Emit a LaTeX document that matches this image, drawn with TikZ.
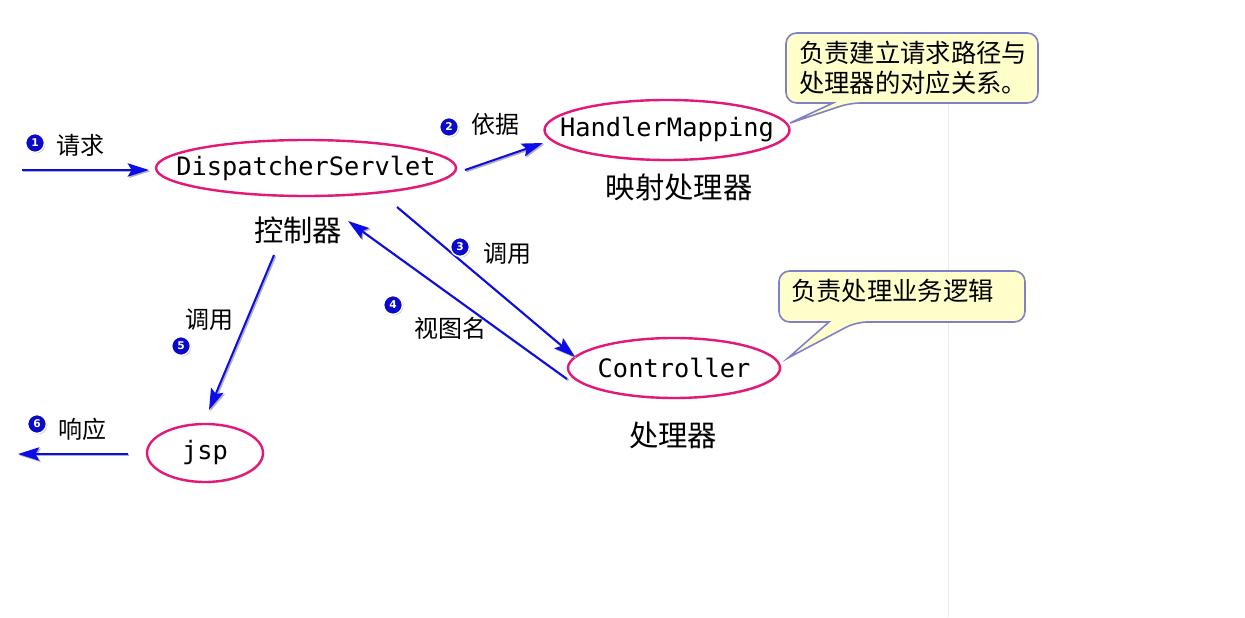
\documentclass[tikz,border=0pt]{standalone}
\usepackage{fontspec}
\newfontfamily\cjk{Noto Sans CJK SC}
\newfontfamily\monof{DejaVu Sans Mono}
\newfontfamily\numf{DejaVu Sans}
\usetikzlibrary{shapes.geometric,arrows.meta,shadows}
\definecolor{elpink}{RGB}{228,24,120}
\definecolor{arblue}{RGB}{12,12,232}
\definecolor{numblue}{RGB}{10,10,200}
\definecolor{calfill}{RGB}{255,255,204}
\definecolor{caldraw}{RGB}{128,128,200}
\begin{document}
\begin{tikzpicture}[x=0.75pt,y=-0.75pt,
 ell/.style={ellipse, draw=elpink, line width=1.8pt, fill=white, inner sep=0pt,
   drop shadow={shadow xshift=1pt,shadow yshift=-1pt,opacity=0.25,fill=gray}},
 mono/.style={font=\monof\fontsize{19}{20}\selectfont, inner sep=0pt},
 big/.style={font=\cjk\fontsize{22}{24}\selectfont, inner sep=0pt},
 lab/.style={font=\cjk\fontsize{18}{20}\selectfont, inner sep=0pt},
 cal/.style={font=\cjk\fontsize{19}{22.5}\selectfont, inner sep=0pt, align=left},
 flow/.style={draw=arblue, line width=1.5pt, -{Stealth[length=16pt,width=10pt,inset=3pt]},
   preaction={draw=black!30, line width=1.5pt, -{Stealth[length=16pt,width=10pt,inset=3pt]}, transform canvas={shift={(1pt,-1pt)}}}},
 num/.style={circle, fill=numblue, draw=white, line width=1pt, minimum size=14pt, inner sep=0pt,
   text=white, font=\numf\bfseries\fontsize{8}{8}\selectfont,
   drop shadow={shadow xshift=0.8pt,shadow yshift=-0.8pt,opacity=0.4}},
 callout/.style={draw=caldraw, fill=calfill, line width=1.2pt}
]
\fill[white] (0,0) rectangle (1245,617);
\draw[black!8, line width=0.75pt] (948,103) -- (948,617);

% ellipses
\node[ell, minimum width=225pt, minimum height=42pt] (ds) at (306,168) {};
\node[mono] (dst) at (ds) {DispatcherServlet};
\node[ell, minimum width=183.75pt, minimum height=45pt] (hm) at (667,130) {};
\node[mono] (hmt) at (hm) {HandlerMapping};
\node[ell, minimum width=159pt, minimum height=45pt] (ctrl) at (674,368) {};
\node[mono] (ctrlt) at (ctrl) {Controller};
\node[ell, minimum width=87pt, minimum height=43.5pt] (jsp) at (205,453) {};
\node[mono] (jspt) at (jsp) {jsp};

% captions
\node[big] (c1) at (298,230) {控制器};
\node[big] (c2) at (679,187) {映射处理器};
\node[big] (c3) at (673,435) {处理器};

% arrow end points
\coordinate (a1s) at (22,170);   \coordinate (a1e) at (149,170);
\coordinate (a2s) at (465,170);  \coordinate (a2e) at (543,143);
\coordinate (a3s) at (397,207);  \coordinate (a3e) at (575,357);
\coordinate (a4s) at (567,379);  \coordinate (a4e) at (348,221);
\coordinate (a5s) at (274,255);  \coordinate (a5e) at (209,410);
\coordinate (a6s) at (128,454);  \coordinate (a6e) at (18,454);

\draw[flow] (a1s) -- (a1e);
\draw[flow] (a2s) -- (a2e);
\draw[flow] (a3s) -- (a3e);
\draw[flow] (a4s) -- (a4e);
\draw[flow] (a5s) -- (a5e);
\draw[flow] (a6s) -- (a6e);

% step labels
\node[lab] (l1) at (80,145) {请求};
\node[lab] (l2) at (495,124) {依据};
\node[lab] (l3) at (507,254) {调用};
\node[lab] (l4) at (450,328) {视图名};
\node[lab] (l5) at (209,320) {调用};
\node[lab] (l6) at (82,429) {响应};

% numbers
\node[num] (n1) at (35,143) {1};
\node[num] (n2) at (449,127) {2};
\node[num] (n3) at (460,247) {3};
\node[num] (n4) at (393,305) {4};
\node[num] (n5) at (181,346) {5};
\node[num] (n6) at (37,424) {6};

% callouts
\draw[callout, rounded corners=8pt] (786,33) -- (1038,33) -- (1038,103) -- (850,103)
  [sharp corners] -- (790,123) -- (833,103) [rounded corners=8pt] -- (786,103) -- cycle;
\node[cal, anchor=west] (t1) at (799,68) {负责建立请求路径与\\处理器的对应关系。};

\draw[callout, rounded corners=8pt] (779,271) -- (1025,271) -- (1025,322) -- (856,322)
  [sharp corners] -- (788,358) -- (829,322) [rounded corners=8pt] -- (779,322) -- cycle;
\node[cal, anchor=west] (t2) at (791,291) {负责处理业务逻辑};
\end{tikzpicture}
\end{document}
